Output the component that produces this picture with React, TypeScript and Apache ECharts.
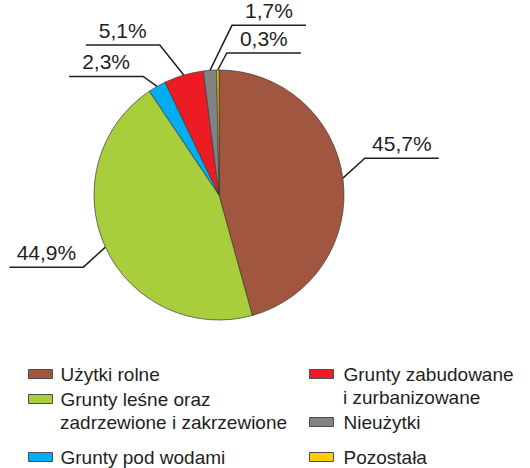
import React, { useEffect, useRef } from 'react';
import * as echarts from 'echarts';

const categories = [
  'Użytki rolne',
  'Grunty leśne oraz zadrzewione i zakrzewione',
  'Grunty pod wodami',
  'Grunty zabudowane i zurbanizowane',
  'Nieużytki',
  'Pozostała',
];
const values = [45.7, 44.9, 2.3, 5.1, 1.7, 0.3];
const legendLine1 = ['Użytki rolne', 'Grunty leśne oraz', 'Grunty pod wodami', 'Grunty zabudowane', 'Nieużytki', 'Pozostała'];
const legendLine2 = ['', 'zadrzewione i zakrzewione', '', 'i zurbanizowane', '', ''];

// styling
const colors = ['#A0563F', '#A8CE3B', '#00AEEF', '#ED1C24', '#808285', '#FFCB05'];
const elbowOffsets = [[22, -20], [-22, 20], [-14, -10], [-24, -30], [22, -45], [9, -17]];
const hLen = 74;
const legendPos = [[28, 374], [28, 399], [28, 457], [309, 374], [309, 422], [309, 457]];
const legendTextPad = [3, 3, 3, 5, 5, 5];
const FONT = '"Liberation Sans", Arial, sans-serif';
const CENTER = [219, 195];
const RADIUS = 125;

function fmt(v: number) {
  return v.toFixed(1).replace('.', ',') + '%';
}

export default function App() {
  const ref = useRef<HTMLDivElement>(null);
  useEffect(() => {
    if (!ref.current) return;
    const chart = echarts.init(ref.current, undefined, { renderer: 'svg' });
    const total = values.reduce((a, b) => a + b, 0);
    const fallbackP0 = (i: number) => {
      let cum = 0;
      for (let k = 0; k < i; k++) cum += values[k];
      const mid = ((cum + values[i] / 2) / total) * Math.PI * 2;
      return [CENTER[0] + RADIUS * Math.sin(mid), CENTER[1] - RADIUS * Math.cos(mid)];
    };
    const legends = categories.map((name, i) => ({
      data: [name],
      left: legendPos[i][0],
      top: legendPos[i][1] - 11,
      padding: 0,
      itemWidth: 24,
      itemHeight: 9,
      icon: 'rect',
      selectedMode: false,
      itemStyle: { borderColor: '#4d4d4d', borderWidth: 1 },
      formatter: () => legendLine1[i],
      textStyle: {
        fontSize: 19,
        fontFamily: FONT,
        color: '#231F20',
        lineHeight: 22,
        padding: [0, 0, 0, legendTextPad[i]],
      },
    }));
    const graphics = legendLine2
      .map((t, i) => ({ t, i }))
      .filter((o) => o.t)
      .map((o) => ({
        type: 'text',
        x: legendPos[o.i][0] + 29 + legendTextPad[o.i],
        y: legendPos[o.i][1] + 23,
        style: {
          text: o.t,
          font: `19px ${FONT}`,
          fill: '#231F20',
          verticalAlign: 'middle',
          align: 'left',
        },
      }));
    chart.setOption({
      animation: false,
      backgroundColor: '#ffffff',
      legend: legends,
      graphic: graphics,
      series: [
        {
          type: 'pie',
          center: CENTER,
          radius: RADIUS,
          startAngle: 90,
          clockwise: true,
          avoidLabelOverlap: false,
          data: categories.map((name, i) => ({
            name,
            value: values[i],
            itemStyle: { color: colors[i] },
          })),
          itemStyle: { borderColor: '#3a3a3a', borderWidth: 0.7 },
          label: {
            show: true,
            position: 'outside',
            formatter: (p: any) => fmt(p.value),
            fontSize: 21,
            fontFamily: FONT,
            color: '#231F20',
          },
          labelLine: {
            show: true,
            length: 20,
            length2: 40,
            lineStyle: { color: '#231F20', width: 1.5 },
          },
          labelLayout: (params: any) => {
            const i = params.dataIndex;
            const p0 =
              params.labelLinePoints && params.labelLinePoints[0]
                ? params.labelLinePoints[0]
                : fallbackP0(i);
            const [ox, oy] = elbowOffsets[i];
            const ex = p0[0] + ox;
            const ey = p0[1] + oy;
            const dir = ox < 0 ? -1 : 1;
            const hx = ex + dir * hLen;
            return {
              x: (ex + hx) / 2,
              y: ey - 4,
              align: 'center',
              verticalAlign: 'bottom',
              labelLinePoints: [
                [p0[0], p0[1]],
                [ex, ey],
                [hx, ey],
              ],
            };
          },
          emphasis: { disabled: true },
        },
      ],
    });
    return () => chart.dispose();
  }, []);
  return (
    <div
      ref={ref}
      style={{ position: 'fixed', left: 0, top: 0, width: 530, height: 468 }}
    />
  );
}
